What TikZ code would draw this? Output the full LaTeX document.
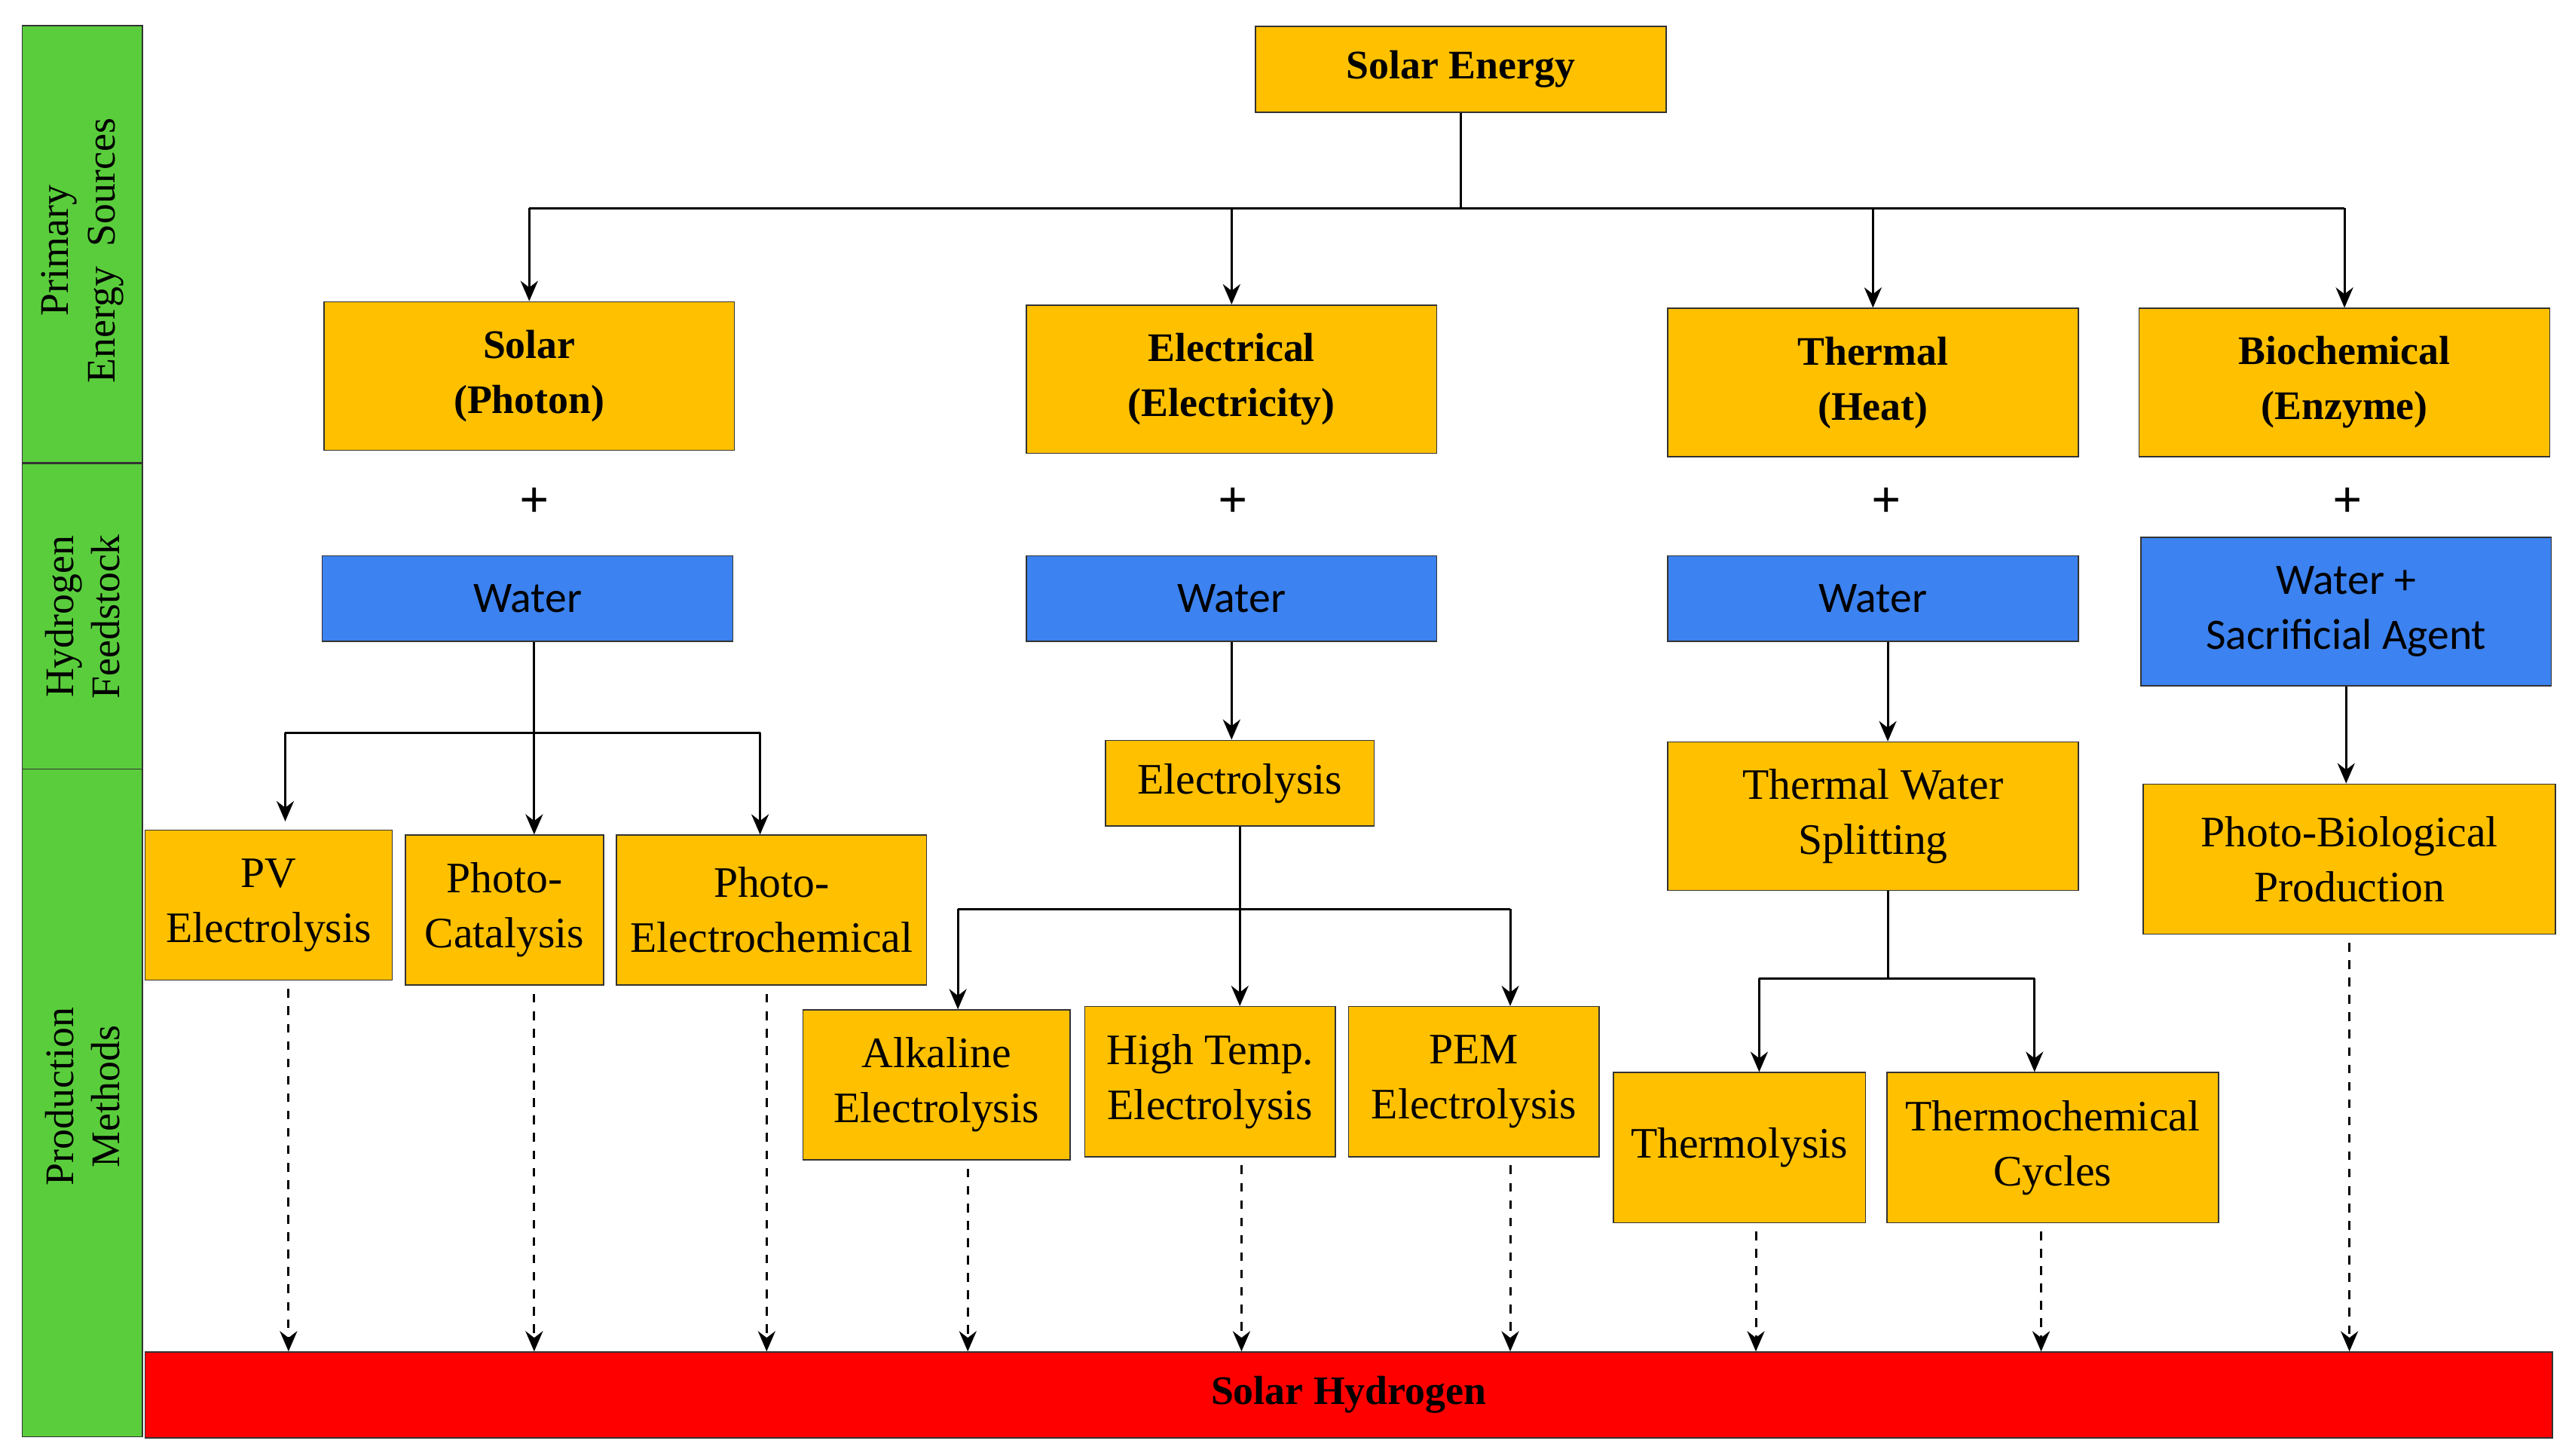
\documentclass[tikz,border=0pt]{standalone}
\usepackage{fontspec}
\setmainfont{Liberation Serif}
\newfontfamily\water{Carlito}
\usetikzlibrary{positioning,arrows.meta}
\definecolor{solorange}{RGB}{255,192,0}
\definecolor{solblue}{RGB}{60,130,240}
\definecolor{solgreen}{RGB}{90,205,60}
\definecolor{solred}{RGB}{255,0,0}
\tikzset{
	sz/.style n args={2}{minimum width=#1*0.02cm,minimum height=#2*0.02cm},
	box/.style={rectangle,draw=black!80,fill=solorange,align=center,inner sep=2pt,
		font=\fontsize{15}{19}\selectfont},
	head/.style={box,font=\fontsize{14}{19}\selectfont\bfseries},
	feed/.style={box,fill=solblue,font=\water\fontsize{15}{19}\selectfont},
	band/.style={rectangle,draw=black!80,fill=solgreen,align=center},
	bandtext/.style={rotate=90,align=center,font=\fontsize{14}{16}\selectfont},
	arr/.style={thick,-{Stealth[length=7pt,width=6pt]}},
	dasharr/.style={thick,dashed,-{Stealth[length=7pt,width=6pt]}},
}
\begin{document}
\begin{tikzpicture}[x=0.02cm,y=-0.02cm]
	\useasboundingbox (0,0) rectangle (1560,883);
	% side bands
	\node[band,sz={73}{265}] (b1) at (50,148) {};
	\node[bandtext] (t1) at (50,152) {Primary\\Energy\ \ Sources};
	\node[band,sz={73}{186}] (b2) at (50,374) {};
	\node[bandtext] (t2) at (50,374) {Hydrogen\\Feedstock};
	\node[band,sz={73}{405}] (b3) at (50,669) {};
	\node[bandtext] (t3) at (50,665) {Production\\Methods};
	% sources
	\node[head,sz={249}{52}] (sun) at (886,42) {Solar Energy};
	\node[head,sz={249}{90}] (photon) at (321,228) {Solar\\(Photon)};
	\node[head,sz={249}{90}] (elec) at (747,230) {Electrical\\(Electricity)};
	\node[head,sz={249}{90}] (heat) at (1136,232) {Thermal\\(Heat)};
	\node[head,sz={249}{90}] (enz) at (1422,232) {Biochemical\\(Enzyme)};
	\foreach \x/\n in {324/p1,748/p2,1144/p3,1424/p4}
		\node[font=\fontsize{18}{18}\selectfont\bfseries] (\n) at (\x,305) {+};
	% feedstock
	\node[feed,sz={249}{52}] (w1) at (320,363) {Water};
	\node[feed,sz={249}{52}] (w2) at (747,363) {Water};
	\node[feed,sz={249}{52}] (w3) at (1136,363) {Water};
	\node[feed,sz={249}{90}] (w4) at (1423,371) {Water +\\Sacrificial Agent};
	% methods
	\node[box,sz={150}{91}] (pv) at (163,549) {PV\\Electrolysis};
	\node[box,sz={120}{91}] (cat) at (306,552) {Photo-\\Catalysis};
	\node[box,sz={188}{91}] (pec) at (468,552) {Photo-\\Electrochemical};
	\node[box,sz={163}{52}] (ely) at (752,475) {Electrolysis};
	\node[box,sz={249}{90}] (tws) at (1136,495) {Thermal Water\\Splitting};
	\node[box,sz={250}{91}] (bio) at (1425,521) {Photo-Biological\\Production};
	\node[box,sz={162}{91}] (alk) at (568,658) {Alkaline\\Electrolysis};
	\node[box,sz={152}{91}] (ht) at (734,656) {High Temp.\\Electrolysis};
	\node[box,sz={152}{91}] (pem) at (894,656) {PEM\\Electrolysis};
	\node[box,sz={153}{91}] (tl) at (1055,696) {Thermolysis};
	\node[box,sz={201}{91}] (tc) at (1245,696) {Thermochemical\\Cycles};
	\node[rectangle,draw=black!80,fill=solred,sz={1460}{52},
		font=\fontsize{14}{18}\selectfont\bfseries] (h2) at (818,846) {Solar Hydrogen};
	% connectors
	\draw[thick] (sun.south) -- ++(0,58) coordinate (c1);
	\draw[thick] (photon.north |- c1) -- (enz.north |- c1);
	\foreach \n in {photon,elec,heat,enz}
		\draw[arr] (\n.north |- c1) -- (\n.north);
	\draw[thick] ([xshift=0.08cm]w1.south) -- ++(0,55) coordinate (c2);
	\draw[thick] ([xshift=0.2cm]pv.north |- c2) -- ([xshift=-0.14cm]pec.north |- c2);
	\draw[arr] ([xshift=0.2cm]pv.north |- c2) -- ([xshift=0.2cm,yshift=0.1cm]pv.north);
	\draw[arr] (c2) -- (c2 |- cat.north);
	\draw[arr] ([xshift=-0.14cm]pec.north |- c2) -- ([xshift=-0.14cm]pec.north);
	\draw[arr] (w2.south) -- (w2.south |- ely.north);
	\draw[thick] (ely.south) -- ++(0,50) coordinate (c3);
	\draw[thick] ([xshift=0.26cm]alk.north |- c3) -- ([xshift=0.44cm]pem.north |- c3);
	\draw[arr] ([xshift=0.26cm]alk.north |- c3) -- ([xshift=0.26cm]alk.north);
	\draw[arr] (c3) -- (ely.south |- ht.north);
	\draw[arr] ([xshift=0.44cm]pem.north |- c3) -- ([xshift=0.44cm]pem.north);
	\draw[arr] ([xshift=0.18cm]w3.south) -- ([xshift=0.18cm]tws.north);
	\draw[thick] ([xshift=0.18cm]tws.south) -- ++(0,53) coordinate (c4);
	\draw[thick] ([xshift=0.24cm]tl.north |- c4) -- ([xshift=-0.22cm]tc.north |- c4);
	\draw[arr] ([xshift=0.24cm]tl.north |- c4) -- ([xshift=0.24cm]tl.north);
	\draw[arr] ([xshift=-0.22cm]tc.north |- c4) -- ([xshift=-0.22cm]tc.north);
	\draw[arr] (w4.south) -- (w4.south |- bio.north);
	% dashed to hydrogen
	\foreach \n/\dx in {pv/12,cat/18,pec/-3,alk/19,ht/19,pem/22,tl/10,tc/-7,bio/0}
		\draw[dasharr] ([xshift=\dx*0.02cm,yshift=-0.1cm]\n.south) -- ([xshift=\dx*0.02cm]\n.south |- h2.north);
\end{tikzpicture}
\end{document}
